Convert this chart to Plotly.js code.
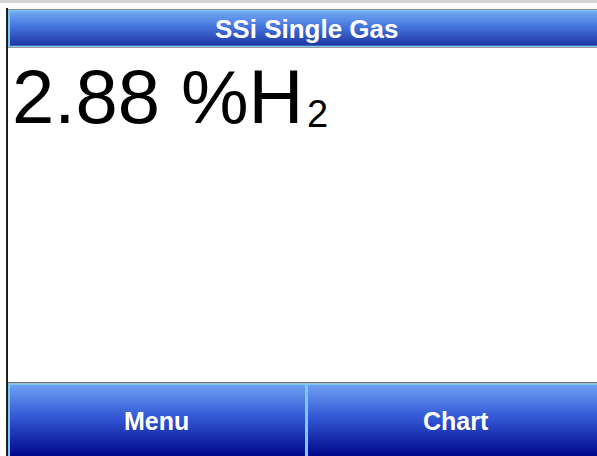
<!DOCTYPE html>
<html>
<head>
<meta charset="utf-8">
<script src="https://cdn.plot.ly/plotly-3.0.1.min.js"></script>
<style>html,body{margin:0;padding:0;background:#fff;overflow:hidden;}#chart{width:597px;height:456px;}</style>
</head>
<body>
<div id="chart"></div>
<script>
// ---- content ----
var titleText = ["SSi Single Gas"];
var readingValues = [2.88];
var unitLabels = ["%H"];
var unitSubscripts = ["2"];
var buttonLabels = ["Menu", "Chart"];

// ---- styling helpers ----
var W = 597, H = 456;
function lerp(a, b, t) { return a + (b - a) * t; }
function colorAt(stops, t) {
  for (var i = 0; i < stops.length - 1; i++) {
    var s0 = stops[i], s1 = stops[i + 1];
    if (t <= s1[0]) {
      var u = (t - s0[0]) / (s1[0] - s0[0]);
      return 'rgb(' + Math.round(lerp(s0[1][0], s1[1][0], u)) + ',' +
        Math.round(lerp(s0[1][1], s1[1][1], u)) + ',' +
        Math.round(lerp(s0[1][2], s1[1][2], u)) + ')';
    }
  }
  var l = stops[stops.length - 1][1];
  return 'rgb(' + l[0] + ',' + l[1] + ',' + l[2] + ')';
}
var gradStops = [
  [0, [108, 158, 242]],
  [0.45, [52, 88, 214]],
  [1, [0, 8, 138]]
];
var shapes = [];
function rect(x0, y0, x1, y1, color) {
  shapes.push({type: 'rect', xref: 'x', yref: 'y', x0: x0, x1: x1, y0: y0, y1: y1,
    fillcolor: color, line: {width: 0}, layer: 'below'});
}
function gradRect(x0, y0, x1, y1) {
  var n = Math.round(y1 - y0);
  for (var i = 0; i < n; i++) {
    rect(x0, y0 + i, x1, y0 + i + 1.02, colorAt(gradStops, i / Math.max(1, n - 1)));
  }
}

// top strip
rect(0, 0, W, 3, '#d4d4d4');
// title bar
rect(8, 9, W, 10.2, '#8a8a8a');
rect(8, 10, W, 47, '#7cc8ee');
gradRect(10, 11.5, W, 45.5);
rect(8, 47, W, 48, '#9a9a9a');
// bottom area
rect(8, 382, W, 383.5, '#707070');
rect(8, 383.5, W, H, '#7cc8ee');
gradRect(10, 385, 305, H);
gradRect(308, 385, W, H);
// left border
rect(6, 8, 8, H, '#1e1e1e');

var annotations = [];
annotations.push({xref: 'x', yref: 'y', x: 307, y: 29, text: '<b>' + titleText[0] + '</b>',
  showarrow: false, xanchor: 'center', yanchor: 'middle',
  font: {family: 'Liberation Sans, Arial, sans-serif', size: 26, color: '#ffffff'}});
annotations.push({xref: 'x', yref: 'y', x: 10, y: 96,
  text: readingValues[0].toFixed(2) + ' ' + unitLabels[0],
  showarrow: false, xanchor: 'left', yanchor: 'middle',
  font: {family: 'Liberation Sans, Arial, sans-serif', size: 76, color: '#000000'}});
annotations.push({xref: 'x', yref: 'y', x: 305, y: 114,
  text: unitSubscripts[0],
  showarrow: false, xanchor: 'left', yanchor: 'middle',
  font: {family: 'Liberation Sans, Arial, sans-serif', size: 38, color: '#000000'}});
var btnCenters = [156.5, 456];
for (var b = 0; b < buttonLabels.length; b++) {
  annotations.push({xref: 'x', yref: 'y', x: btnCenters[b], y: 421, text: '<b>' + buttonLabels[b] + '</b>',
    showarrow: false, xanchor: 'center', yanchor: 'middle',
    font: {family: 'Liberation Sans, Arial, sans-serif', size: 25, color: '#ffffff'}});
}

var layout = {
  width: W, height: H,
  margin: {l: 0, r: 0, t: 0, b: 0, pad: 0},
  paper_bgcolor: '#ffffff', plot_bgcolor: '#ffffff',
  showlegend: false,
  xaxis: {range: [0, W], visible: false, fixedrange: true},
  yaxis: {range: [H, 0], visible: false, fixedrange: true},
  shapes: shapes,
  annotations: annotations
};
Plotly.newPlot('chart', [{x: [], y: [], type: 'scatter'}], layout, {staticPlot: true, displayModeBar: false});
</script>
</body>
</html>
